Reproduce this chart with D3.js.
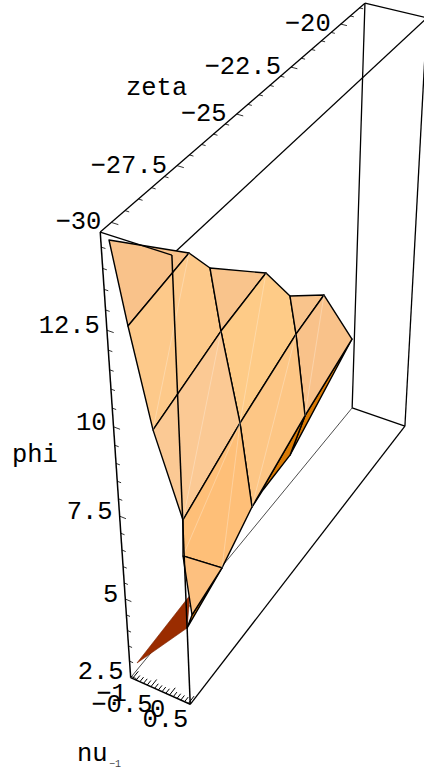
<!DOCTYPE html>
<html>
<head>
<meta charset="utf-8">
<style>
  body { margin: 0; background: #fff; }
  svg { display: block; }
  text { font-family: "Liberation Mono", monospace; font-size: 25.5px; fill: #000; }
</style>
</head>
<body>
<div id="chart"></div>
<script src="https://cdn.jsdelivr.net/npm/d3@7"></script>
<script>
// Axis ranges of the box
const nuDomain = [-1.05, 0.55];
const zetaDomain = [-30.4, -18.7];
const phiDomain = [2.45, 14.85];

// Tick labels
const nuLabels = [-1, -0.5, 0, 0.5];
const zetaLabels = [-30, -27.5, -25, -22.5, -20];
const phiLabels = [2.5, 5, 7.5, 10, 12.5];

// Surface vertices
const vertexIds = "abcdefghijklmnopqrstuvw".split("");
const vertexNu = [-1.132, -0.836, -0.807, -1.002, -0.629, -1.349, -0.516, -0.807, -0.568, -0.461, -0.337, -0.123, -0.194, 0.307, 0.164, 0.072, 0.27, 0.297, -1.119, 0.409, 0.442, -0.242, 0.079];
const vertexZeta = [-30, -27.5, -26.7, -23.8, -23.3, -20, -20, -30, -26.7, -23.3, -30, -26.7, -23.3, -30, -26.7, -28, -30, -30, -30, -30, -30, -24, -26];
const vertexPhi = [14.414, 12.773, 11.934, 10.033, 9.202, 6.988, 5.871, 12.444, 10.329, 8.135, 9.931, 7.891, 5.716, 7.702, 5.466, 4.529, 6.634, 4.431, 2.535, 5.511, 4.917, 4.92, 5.429];

// Faces, back to front, and their shading
const faces = ["gmv", "mvwo", "str", "pru", "abh", "hbcik", "cdi", "idejl", "efj", "jfgm", "kiln", "ljmo", "nlopq", "qpu"];
const faceColors = ["#d97a05", "#d97a05", "#9a2c00", "#d97a05", "#f9c28a", "#fdc98a", "#f9c48c", "#fecb87", "#f9c48c", "#f9c28a", "#fbc994", "#fdc685", "#febf78", "#fdc07f"];
const seams = ["bk", "dl", "fm", "in", "jo", "lp", "lq"];

const width = 424;
const height = 778;

const nuScale = d3.scaleLinear(nuDomain, [0, 1]);
const zetaScale = d3.scaleLinear(zetaDomain, [0, 1]);
const phiScale = d3.scaleLinear(phiDomain, [0, 1]);

// Camera for the unit box (u = nu, v = zeta, w = phi)
const camera = [
  [56.3306, 291.476, -47.7761, 130.671],
  [14.7016, -188.688, -485.692, 677.608],
  [-0.0170519, 0.198734, -0.172925, 1],
];

function project([u, v, w]) {
  const [a, b, c] = camera;
  const d = c[0] * u + c[1] * v + c[2] * w + c[3];
  return [(a[0] * u + a[1] * v + a[2] * w + a[3]) / d, (b[0] * u + b[1] * v + b[2] * w + b[3]) / d];
}

const vertex = (id) => {
  const i = vertexIds.indexOf(id);
  return project([nuScale(vertexNu[i]), zetaScale(vertexZeta[i]), phiScale(vertexPhi[i])]);
};

const svg = d3.select("#chart").append("svg").attr("width", width).attr("height", height);
const line = d3.line();

function edge(g, from, to, strokeWidth = 1.3) {
  g.append("path")
    .attr("d", line([project(from), project(to)]))
    .attr("fill", "none")
    .attr("stroke", "#000")
    .attr("stroke-width", strokeWidth);
}

// Back of the box, behind the surface
const back = svg.append("g");
edge(back, [0, 0, 0], [0, 1, 0], 0.7);
edge(back, [0, 1, 0], [1, 1, 0]);
edge(back, [0, 1, 0], [0, 1, 1]);
edge(back, [1, 1, 0], [1, 1, 1]);
edge(back, [1, 0, 0], [1, 1, 0]);
edge(back, [0, 1, 1], [1, 1, 1]);
edge(back, [0, 0, 1], [0, 1, 1]);
edge(back, [1, 0, 1], [1, 1, 1]);

// Surface
svg.append("g")
  .selectAll("path")
  .data(faces)
  .join("path")
  .attr("d", (d) => line(d.split("").map(vertex)) + "Z")
  .attr("fill", (d, i) => faceColors[i])
  .attr("stroke", (d, i) => (faceColors[i] === "#9a2c00" ? "#7a2200" : "#000"))
  .attr("stroke-width", (d, i) => (faceColors[i] === "#9a2c00" ? 0.6 : 1.4))
  .attr("stroke-linejoin", "round");

svg.append("g")
  .selectAll("path")
  .data(seams)
  .join("path")
  .attr("d", (d) => line(d.split("").map(vertex)))
  .attr("fill", "none")
  .attr("stroke", "#fff")
  .attr("stroke-opacity", 0.35)
  .attr("stroke-width", 0.8);

// Front of the box, over the surface
const front = svg.append("g");
edge(front, [0, 0, 1], [1, 0, 1]);
edge(front, [0, 0, 1], [0, 0, 0], 1.5);
edge(front, [1, 0, 1], [1, 0, 0], 1.5);
edge(front, [0, 0, 0], [1, 0, 0], 1.6);

// Ticks: major ones carry a label
const isMajor = (labels, t) => labels.some((l) => Math.abs(l - t) < 1e-6);

zetaScale.ticks(24).forEach((t) => {
  const len = isMajor(zetaLabels, t) ? 0.1 : 0.06;
  edge(front, [0, zetaScale(t), 1], [len, zetaScale(t), 1], 0.8);
});
phiScale.ticks(25).forEach((t) => {
  const len = isMajor(phiLabels, t) ? 0.1 : 0.06;
  edge(front, [0, 0, phiScale(t)], [len, 0, phiScale(t)], 0.8);
});
nuScale.ticks(16).forEach((t) => {
  const len = isMajor(nuLabels, t) ? 0.022 : 0.014;
  edge(front, [nuScale(t), 0, 0], [nuScale(t), len, 0], 1);
});

// Tick labels
const minus = (v) => String(v).replace("-", "\u2212");
const labels = svg.append("g");

labels.selectAll(".zeta")
  .data(zetaLabels)
  .join("text")
  .attr("class", "zeta")
  .attr("text-anchor", "end")
  .attr("x", (d) => project([0, zetaScale(d), 1])[0] - 10)
  .attr("y", (d) => project([0, zetaScale(d), 1])[1] + 7)
  .text(minus);

labels.selectAll(".phi")
  .data(phiLabels)
  .join("text")
  .attr("class", "phi")
  .attr("text-anchor", "end")
  .attr("x", (d) => project([0, 0, phiScale(d)])[0] - 7)
  .attr("y", (d) => project([0, 0, phiScale(d)])[1] + 3)
  .text(minus);

const nuLabelOffsets = [[-21, 23], [-29, 25], [-12, 22], [-23, 24]];
labels.selectAll(".nu")
  .data(nuLabels)
  .join("text")
  .attr("class", "nu")
  .attr("text-anchor", "middle")
  .attr("x", (d, i) => project([nuScale(d), 0, 0])[0] + nuLabelOffsets[i][0])
  .attr("y", (d, i) => project([nuScale(d), 0, 0])[1] + nuLabelOffsets[i][1])
  .text(minus);

// Axis titles
labels.append("text").attr("x", 126).attr("y", 95).text("zeta");
labels.append("text").attr("x", 12).attr("y", 462).text("phi");
labels.append("text").attr("x", 77).attr("y", 761).text("nu");
labels.append("text").attr("x", 109).attr("y", 767).style("font-size", "10px").style("fill", "#444").text("\u22121");
</script>
</body>
</html>
